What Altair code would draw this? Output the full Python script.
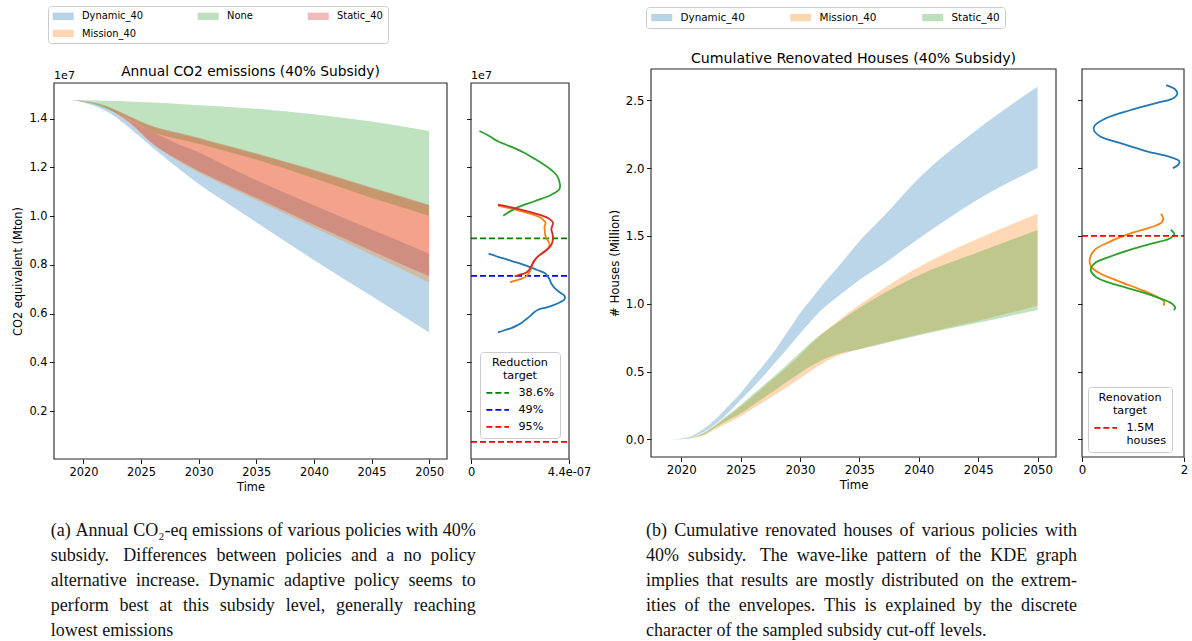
import re

import altair as alt
import pandas as pd

FONT = "DejaVu Sans"
SERIF = "Liberation Serif"
BLUE, ORANGE, GREEN, RED = "#1f77b4", "#ff7f0e", "#2ca02c", "#d62728"
SPINE = "#262626"
W, H = 1192, 641

# ------------------------------------------------------------------
# (a) Annual CO2 emissions with 40% subsidy, envelopes (units of 1e7)
# ------------------------------------------------------------------
years_a = [2019, 2020, 2022, 2024, 2026, 2028, 2030, 2032, 2035, 2040, 2045, 2050]
dynamic_lo_a = [1.476, 1.466, 1.430, 1.362, 1.282, 1.205, 1.132, 1.068, 0.975, 0.820, 0.672, 0.523]
dynamic_hi_a = [1.476, 1.471, 1.447, 1.392, 1.345, 1.300, 1.262, 1.215, 1.148, 1.045, 0.945, 0.846]
mission_lo_a = [1.476, 1.469, 1.444, 1.382, 1.296, 1.232, 1.179, 1.133, 1.066, 0.953, 0.842, 0.728]
mission_hi_a = [1.476, 1.471, 1.450, 1.407, 1.366, 1.341, 1.318, 1.292, 1.254, 1.186, 1.113, 1.043]
none_lo_a = [1.476, 1.470, 1.440, 1.395, 1.345, 1.318, 1.297, 1.271, 1.232, 1.155, 1.075, 1.002]
none_hi_a = [1.476, 1.475, 1.473, 1.470, 1.466, 1.461, 1.455, 1.450, 1.440, 1.418, 1.388, 1.349]
static_lo_a = [1.476, 1.470, 1.446, 1.385, 1.298, 1.237, 1.185, 1.140, 1.075, 0.965, 0.858, 0.753]
static_hi_a = [1.476, 1.472, 1.452, 1.410, 1.370, 1.345, 1.322, 1.296, 1.258, 1.190, 1.117, 1.047]

# KDE of the 2050 emissions per policy (value in 1e7, density in 1e-7)
kde_dynamic_v_a = [0.846, 0.833, 0.821, 0.808, 0.794, 0.780, 0.767, 0.753, 0.739, 0.722, 0.705,
                   0.688, 0.671, 0.657, 0.647, 0.637, 0.626, 0.616, 0.603, 0.589, 0.575, 0.562,
                   0.551, 0.541, 0.532, 0.523]
kde_dynamic_d_a = [0.79, 1.22, 1.66, 2.11, 2.56, 2.95, 3.31, 3.45, 3.53, 3.62, 3.76,
                   3.98, 4.21, 4.18, 4.00, 3.76, 3.40, 3.01, 2.80, 2.64, 2.45, 2.26,
                   2.05, 1.81, 1.50, 1.21]
kde_mission_v_a = [1.043, 1.024, 0.999, 0.985, 0.972, 0.958, 0.944, 0.930, 0.917, 0.900, 0.883,
                   0.871, 0.860, 0.848, 0.835, 0.822, 0.808, 0.794, 0.780, 0.767, 0.753, 0.745,
                   0.739, 0.728]
kde_mission_d_a = [1.21, 2.11, 3.01, 3.25, 3.35, 3.30, 3.31, 3.32, 3.35, 3.45, 3.53,
                   3.48, 3.38, 3.22, 3.01, 2.88, 2.78, 2.72, 2.68, 2.60, 2.49, 2.30,
                   2.11, 1.75]
kde_none_v_a = [1.349, 1.330, 1.307, 1.283, 1.259, 1.238, 1.218, 1.197, 1.177, 1.156, 1.136,
                1.122, 1.108, 1.088, 1.061, 1.033, 1.002]
kde_none_d_a = [0.38, 0.80, 1.21, 1.85, 2.41, 2.80, 3.16, 3.50, 3.76, 3.92, 3.98,
                4.00, 3.95, 3.61, 2.85, 2.02, 1.45]
kde_static_v_a = [1.047, 1.033, 1.015, 0.992, 0.972, 0.958, 0.944, 0.927, 0.910, 0.896, 0.883,
                  0.870, 0.856, 0.842, 0.828, 0.811, 0.794, 0.781, 0.769, 0.760, 0.753]
kde_static_d_a = [1.21, 1.96, 2.71, 3.46, 3.68, 3.64, 3.61, 3.66, 3.68, 3.66, 3.61,
                  3.50, 3.31, 3.10, 2.93, 2.80, 2.71, 2.62, 2.49, 2.20, 1.96]

# Reduction targets relative to the reference emission level
target_labels_a = ["38.6%", "49%", "95%"]
target_pcts_a = [38.6, 49.0, 95.0]
target_colors_a = ["#008000", "#0000ff", "#ff0000"]
reference_emission_a = 1.48

# ------------------------------------------------------------------
# (b) Cumulative renovated houses with 40% subsidy (millions)
# ------------------------------------------------------------------
years_b = [2019, 2020, 2021, 2022, 2023, 2024, 2025, 2026, 2027, 2028,
           2029, 2030, 2031, 2032, 2033, 2035, 2037, 2040, 2045, 2050]
dynamic_hi_b = [0.0, 0.004, 0.030, 0.083, 0.160, 0.250, 0.340, 0.450, 0.555, 0.670,
                0.800, 0.930, 1.040, 1.150, 1.250, 1.460, 1.640, 1.925, 2.290, 2.600]
dynamic_lo_b = [0.0, 0.002, 0.020, 0.060, 0.120, 0.200, 0.290, 0.380, 0.475, 0.575,
                0.675, 0.780, 0.880, 0.970, 1.040, 1.175, 1.290, 1.480, 1.770, 2.000]
mission_hi_b = [0.0, 0.002, 0.015, 0.050, 0.110, 0.175, 0.243, 0.315, 0.390, 0.465,
                0.540, 0.620, 0.710, 0.790, 0.860, 0.990, 1.110, 1.270, 1.480, 1.663]
mission_lo_b = [0.0, 0.001, 0.010, 0.034, 0.080, 0.125, 0.170, 0.225, 0.280, 0.335,
                0.390, 0.450, 0.510, 0.565, 0.610, 0.665, 0.710, 0.775, 0.875, 0.985]
static_hi_b = [0.0, 0.002, 0.016, 0.055, 0.115, 0.185, 0.253, 0.330, 0.405, 0.480,
               0.560, 0.640, 0.720, 0.790, 0.850, 0.970, 1.075, 1.210, 1.380, 1.544]
static_lo_b = [0.0, 0.001, 0.012, 0.040, 0.095, 0.145, 0.190, 0.250, 0.310, 0.370,
               0.430, 0.490, 0.545, 0.590, 0.625, 0.665, 0.705, 0.768, 0.860, 0.953]

# KDE of the 2050 cumulative renovations per policy
kde_dynamic_v_b = [2.611, 2.579, 2.549, 2.517, 2.480, 2.426, 2.369, 2.313, 2.283, 2.234,
                   2.185, 2.123, 2.081, 2.049, 2.025, 1.998]
kde_dynamic_d_b = [1.65, 1.83, 1.87, 1.80, 1.47, 0.94, 0.48, 0.25, 0.23, 0.35,
                   0.74, 1.27, 1.73, 1.91, 1.89, 1.78]
kde_mission_v_b = [1.663, 1.631, 1.601, 1.569, 1.525, 1.458, 1.397, 1.323, 1.273, 1.224,
                   1.163, 1.096, 1.039, 1.015, 0.985]
kde_mission_d_b = [1.55, 1.59, 1.57, 1.40, 1.01, 0.55, 0.25, 0.15, 0.18, 0.35,
                   0.74, 1.20, 1.53, 1.61, 1.60]
kde_static_v_b = [1.544, 1.515, 1.483, 1.446, 1.397, 1.347, 1.298, 1.249, 1.195, 1.138,
                  1.089, 1.039, 1.002, 0.970, 0.953]
kde_static_d_b = [1.74, 1.81, 1.73, 1.40, 0.94, 0.55, 0.25, 0.17, 0.28, 0.68,
                  1.14, 1.53, 1.76, 1.83, 1.80]

renovation_target_b = 1.5
renovation_label_b = "1.5M houses"

caption_a = [
    "(a) Annual CO\u2082-eq emissions of various policies with 40%",
    "subsidy.  Differences between policies and a no policy",
    "alternative increase. Dynamic adaptive policy seems to",
    "perform best at this subsidy level, generally reaching",
    "lowest emissions",
]
caption_b = [
    "(b) Cumulative renovated houses of various policies with",
    "40% subsidy.  The wave-like pattern of the KDE graph",
    "implies that results are mostly distributed on the extrem-",
    "ities of the envelopes. This is explained by the discrete",
    "character of the sampled subsidy cut-off levels.",
]

# ------------------------------------------------------------------
# panel placement (pixel ranges of each axes box)
# ------------------------------------------------------------------
ENV_A_X, ENV_A_Y = (54, 447), (459, 83)
KDE_A_X = (471, 569)
ENV_B_X, ENV_B_Y = (651, 1056), (457, 69)
KDE_B_X = (1082, 1184)

# caption blocks: left edge and justified width of each text column
CAPTION_SIZE = 18
CAPTION_COLUMNS = [(caption_a, 50.7, 425.0), (caption_b, 646.0, 431.0)]
CAPTION_BASELINES = (536, 636)

# advance widths (per 1000 em) of the serif caption face
SERIF_ADVANCE = {
    " ": 250, "!": 333, "%": 833, "(": 333, ")": 333, ",": 250, "-": 333, ".": 250,
    ":": 278, ";": 278, "?": 444, "\u2082": 330,
    "A": 722, "B": 667, "C": 667, "D": 722, "E": 611, "F": 556, "G": 722, "H": 722,
    "I": 333, "J": 389, "K": 722, "L": 611, "M": 889, "N": 722, "O": 722, "P": 556,
    "Q": 722, "R": 667, "S": 556, "T": 611, "U": 722, "V": 722, "W": 944, "X": 722,
    "Y": 722, "Z": 611,
    "a": 444, "b": 500, "c": 444, "d": 500, "e": 444, "f": 333, "g": 500, "h": 500,
    "i": 278, "j": 278, "k": 500, "l": 278, "m": 778, "n": 500, "o": 500, "p": 500,
    "q": 500, "r": 333, "s": 389, "t": 278, "u": 500, "v": 500, "w": 722, "x": 500,
    "y": 500, "z": 444,
}


def advance(text, size):
    return sum(SERIF_ADVANCE.get(c, 500) for c in text) * size / 1000.0


def justified_words():
    """Split caption lines into words and spread them over the column width."""
    rows = []
    for lines, left, width in CAPTION_COLUMNS:
        for li, line in enumerate(lines):
            parts = re.split(r"( +)", line)
            words = parts[0::2]
            # a double space after a sentence gets a somewhat wider gap
            gaps = [1.0 + 0.4 * (len(g) - 1) for g in parts[1::2]]
            widths = [advance(w, CAPTION_SIZE) for w in words]
            if li == len(lines) - 1 or not gaps:
                unit = advance(" ", CAPTION_SIZE)
            else:
                unit = (width - sum(widths)) / sum(gaps)
            x = left
            for k, (w, wd) in enumerate(zip(words, widths)):
                rows.append({"x": x, "line": li, "word": w})
                if k < len(gaps):
                    x += wd + unit * gaps[k]
    return pd.DataFrame(rows)


def padded(lo, hi, frac=0.05):
    span = hi - lo
    return [lo - frac * span, hi + frac * span]


def lin(domain, rng):
    return alt.Scale(domain=list(domain), range=list(rng), nice=False, zero=False)


def envelope_df(years, bands):
    rows = []
    for name, lo, hi in bands:
        for yr, l, h in zip(years, lo, hi):
            rows.append({"year": yr, "policy": name, "lo": l, "hi": h})
    return pd.DataFrame(rows)


def kde_df(curves):
    rows = []
    for name, vals, dens in curves:
        for i, (v, d) in enumerate(zip(vals, dens)):
            rows.append({"policy": name, "i": i, "value": v, "density": d})
    return pd.DataFrame(rows)


def x_axis(values, y_bottom, fs, title=None, fmt="d", label_expr=None):
    kw = dict(orient="bottom", offset=y_bottom - H, values=values, domain=False, grid=False,
              tickSize=4.5, tickWidth=0.9, tickColor="black", labelFont=FONT,
              labelFontSize=fs, labelColor="black", labelPadding=2.5, labelFlush=False,
              labelOverlap=False, format=fmt, title=title, titleFont=FONT,
              titleFontSize=fs, titleFontWeight="normal", titleColor="black", titlePadding=4)
    if label_expr:
        kw["labelExpr"] = label_expr
    return alt.Axis(**kw)


def y_axis(values, x_left, fs, title=None, labels=True):
    return alt.Axis(orient="left", offset=-x_left, values=values, domain=False, grid=False,
                    tickSize=4.5, tickWidth=0.9, tickColor="black", labels=labels,
                    labelFont=FONT, labelFontSize=fs, labelColor="black", labelPadding=2.5,
                    labelOverlap=False, format=".1f", title=title, titleFont=FONT,
                    titleFontSize=fs, titleFontWeight="normal", titleColor="black",
                    titlePadding=5)


def frame(xs, ys, xdom, ydom):
    df = pd.DataFrame({"x0": [xdom[0]], "x1": [xdom[1]], "y0": [ydom[0]], "y1": [ydom[1]]})
    return alt.Chart(df).mark_rect(fillOpacity=0, stroke=SPINE, strokeWidth=1.1).encode(
        x=alt.X("x0:Q", scale=xs, axis=None), x2="x1:Q",
        y=alt.Y("y0:Q", scale=ys, axis=None), y2="y1:Q")


def label(xs, ys, x, y, text, fs, dy, align="center"):
    df = pd.DataFrame({"x": [x], "y": [y], "t": [text]})
    return alt.Chart(df).mark_text(font=FONT, fontSize=fs, dy=dy, align=align,
                                   baseline="alphabetic", color="black").encode(
        x=alt.X("x:Q", scale=xs, axis=None), y=alt.Y("y:Q", scale=ys, axis=None), text="t:N")


# legend swatch: a 4:1.4 rectangle anchored at the left of its nominal square
SWATCH = "M-1,-0.7H3V0.7H-1Z"
# legend line sample: a horizontal stroke, twice the nominal symbol width
STROKE = "M-1,0H3"


def band_legend(x, y, fs, col_pad, pad, values):
    return alt.Legend(orient="none", legendX=x, legendY=y, direction="horizontal", columns=3,
                      values=values, title=None,
                      symbolType=SWATCH, symbolSize=110, symbolOpacity=0.32,
                      symbolStrokeWidth=0, labelFont=FONT, labelFontSize=fs,
                      labelColor="black", labelOffset=18.5, columnPadding=col_pad,
                      rowPadding=6.5, padding=pad, strokeColor="#cccccc", fillColor="white",
                      cornerRadius=3, gridAlign="each")


def target_legend(x, y, title, fs):
    return alt.Legend(orient="none", legendX=x, legendY=y, title=title, titleFont=FONT,
                      titleFontSize=fs, titleFontWeight="normal", titleColor="black",
                      titleAnchor="middle", titleAlign="center", titlePadding=4.5,
                      symbolType=STROKE, symbolSize=128, symbolDash=[6, 3],
                      symbolStrokeWidth=1.8, labelFont=FONT, labelFontSize=fs,
                      labelColor="black", labelOffset=19.5, rowPadding=4, padding=5,
                      strokeColor="#cccccc", fillColor="white", cornerRadius=3,
                      labelExpr="split(datum.label, ' ')")


layers = []

# ---------------- (a) envelopes ----------------
bands_a = [("Dynamic_40", dynamic_lo_a, dynamic_hi_a), ("Mission_40", mission_lo_a, mission_hi_a),
           ("None", none_lo_a, none_hi_a), ("Static_40", static_lo_a, static_hi_a)]
env_a = envelope_df(years_a, bands_a)
targets_a = [reference_emission_a * (1 - p / 100) for p in target_pcts_a]

xdom_a = padded(min(years_a), max(years_a))
ydom_a = padded(min(env_a["lo"].min(), min(targets_a)), env_a["hi"].max())
xs_a, ys_a = lin(xdom_a, ENV_A_X), lin(ydom_a, ENV_A_Y)
FS_A = 11.4
legend_order_a = ["Dynamic_40", "None", "Static_40", "Mission_40"]

layers.append(
    alt.Chart(env_a).mark_area(opacity=0.3, interpolate="monotone").encode(
        x=alt.X("year:Q", scale=xs_a,
                axis=x_axis(list(range(2020, 2051, 5)), ENV_A_Y[0], FS_A, title="Time")),
        y=alt.Y("hi:Q", scale=ys_a, stack=None,
                axis=y_axis([0.2, 0.4, 0.6, 0.8, 1.0, 1.2, 1.4], ENV_A_X[0], FS_A,
                            title="CO2 equivalent (Mton)")),
        y2="lo:Q",
        color=alt.Color("policy:N",
                        scale=alt.Scale(domain=legend_order_a,
                                        range=[BLUE, GREEN, RED, ORANGE]),
                        legend=band_legend(48, 6, 9.9, 54, 4.5, legend_order_a)),
    )
)
layers.append(frame(xs_a, ys_a, xdom_a, ydom_a))
layers.append(label(xs_a, ys_a, sum(xdom_a) / 2, ydom_a[1],
                    "Annual CO2 emissions (40% Subsidy)", 13.8, -7))
layers.append(label(xs_a, ys_a, xdom_a[0], ydom_a[1], "1e7", 11.1, -4, align="left"))

# ---------------- (a) KDE side panel ----------------
kde_a = kde_df([("Dynamic_40", kde_dynamic_v_a, kde_dynamic_d_a),
                ("Mission_40", kde_mission_v_a, kde_mission_d_a),
                ("None", kde_none_v_a, kde_none_d_a),
                ("Static_40", kde_static_v_a, kde_static_d_a)])
kdom_a = [0, 4.4]
kxs_a = lin(kdom_a, KDE_A_X)

tgt_a = pd.DataFrame({"target": target_labels_a, "value": targets_a,
                      "x0": [kdom_a[0]] * 3, "x1": [kdom_a[1]] * 3})
layers.append(
    alt.Chart(tgt_a).mark_rule(strokeDash=[6, 3], strokeWidth=1.8).encode(
        x=alt.X("x0:Q", scale=kxs_a, axis=None), x2="x1:Q",
        y=alt.Y("value:Q", scale=ys_a, axis=None),
        color=alt.Color("target:N",
                        scale=alt.Scale(domain=target_labels_a, range=target_colors_a),
                        legend=target_legend(480, 352, ["Reduction", "target"], 11.2)),
    )
)
layers.append(
    alt.Chart(kde_a).mark_line(strokeWidth=1.8, interpolate="catmull-rom").encode(
        x=alt.X("density:Q", scale=kxs_a,
                axis=x_axis(kdom_a, ENV_A_Y[0], FS_A, fmt=".1f",
                            label_expr="datum.value == 0 ? '0' : format(datum.value, '.1f') + 'e-07'")),
        y=alt.Y("value:Q", scale=ys_a,
                axis=y_axis([0.2, 0.4, 0.6, 0.8, 1.0, 1.2, 1.4], KDE_A_X[0], FS_A, labels=False)),
        order="i:Q",
        color=alt.Color("policy:N",
                        scale=alt.Scale(domain=["Dynamic_40", "Mission_40", "None", "Static_40"],
                                        range=[BLUE, ORANGE, GREEN, RED]),
                        legend=None),
    )
)
layers.append(frame(kxs_a, ys_a, kdom_a, ydom_a))
layers.append(label(kxs_a, ys_a, kdom_a[0], ydom_a[1], "1e7", 11.1, -4, align="left"))

# ---------------- (b) envelopes ----------------
bands_b = [("Dynamic_40", dynamic_lo_b, dynamic_hi_b), ("Mission_40", mission_lo_b, mission_hi_b),
           ("Static_40", static_lo_b, static_hi_b)]
env_b = envelope_df(years_b, bands_b)
xdom_b = padded(min(years_b), max(years_b))
ydom_b = padded(env_b["lo"].min(), env_b["hi"].max())
xs_b, ys_b = lin(xdom_b, ENV_B_X), lin(ydom_b, ENV_B_Y)
FS_B = 11.75
legend_order_b = ["Dynamic_40", "Mission_40", "Static_40"]

layers.append(
    alt.Chart(env_b).mark_area(opacity=0.3, interpolate="monotone").encode(
        x=alt.X("year:Q", scale=xs_b,
                axis=x_axis(list(range(2020, 2051, 5)), ENV_B_Y[0], FS_B, title="Time")),
        y=alt.Y("hi:Q", scale=ys_b, stack=None,
                axis=y_axis([0.0, 0.5, 1.0, 1.5, 2.0, 2.5], ENV_B_X[0], FS_B,
                            title="# Houses (Million)")),
        y2="lo:Q",
        color=alt.Color("policy:N",
                        scale=alt.Scale(domain=legend_order_b, range=[BLUE, ORANGE, GREEN]),
                        legend=band_legend(646, 7, 10.4, 45, 5, legend_order_b)),
    )
)
layers.append(frame(xs_b, ys_b, xdom_b, ydom_b))
layers.append(label(xs_b, ys_b, sum(xdom_b) / 2, ydom_b[1],
                    "Cumulative Renovated Houses (40% Subsidy)", 14.2, -6.5))

# ---------------- (b) KDE side panel ----------------
kde_b = kde_df([("Dynamic_40", kde_dynamic_v_b, kde_dynamic_d_b),
                ("Mission_40", kde_mission_v_b, kde_mission_d_b),
                ("Static_40", kde_static_v_b, kde_static_d_b)])
kdom_b = [0, 2]
kxs_b = lin(kdom_b, KDE_B_X)

tgt_b = pd.DataFrame({"target": [renovation_label_b], "value": [renovation_target_b],
                      "x0": [kdom_b[0]], "x1": [kdom_b[1]]})
layers.append(
    alt.Chart(kde_b).mark_line(strokeWidth=1.8, interpolate="catmull-rom").encode(
        x=alt.X("density:Q", scale=kxs_b,
                axis=x_axis(kdom_b, ENV_B_Y[0], FS_B)),
        y=alt.Y("value:Q", scale=ys_b,
                axis=y_axis([0.0, 0.5, 1.0, 1.5, 2.0, 2.5], KDE_B_X[0], FS_B, labels=False)),
        order="i:Q",
        color=alt.Color("policy:N",
                        scale=alt.Scale(domain=legend_order_b, range=[BLUE, ORANGE, GREEN]),
                        legend=None),
    )
)
layers.append(
    alt.Chart(tgt_b).mark_rule(strokeDash=[6, 3], strokeWidth=1.8).encode(
        x=alt.X("x0:Q", scale=kxs_b, axis=None), x2="x1:Q",
        y=alt.Y("value:Q", scale=ys_b, axis=None),
        color=alt.Color("target:N", scale=alt.Scale(domain=[renovation_label_b], range=["#ff0000"]),
                        legend=target_legend(1088, 387, ["Renovation", "target"], 11.2)),
    )
)
layers.append(frame(kxs_b, ys_b, kdom_b, ydom_b))

# ---------------- sub-figure captions (justified columns) ----------------
cap = justified_words()
n_lines = max(len(caption_a), len(caption_b))
layers.append(
    alt.Chart(cap).mark_text(font=SERIF, fontSize=CAPTION_SIZE, align="left",
                             baseline="alphabetic", color="#111111").encode(
        x=alt.X("x:Q", scale=alt.Scale(domain=[0, W], range=[0, W], nice=False, zero=False),
                axis=None),
        y=alt.Y("line:Q", scale=alt.Scale(domain=[0, n_lines - 1], range=list(CAPTION_BASELINES),
                                          nice=False, zero=False), axis=None),
        text="word:N",
    )
)

chart = alt.layer(*layers).resolve_scale(
    x="independent", y="independent", color="independent"
).properties(
    width=W, height=H, padding=0, autosize=alt.AutoSizeParams(type="none"),
    background="white",
).configure_view(strokeWidth=0)

chart.save("out.html", embed_options={"renderer": "svg", "actions": False})
